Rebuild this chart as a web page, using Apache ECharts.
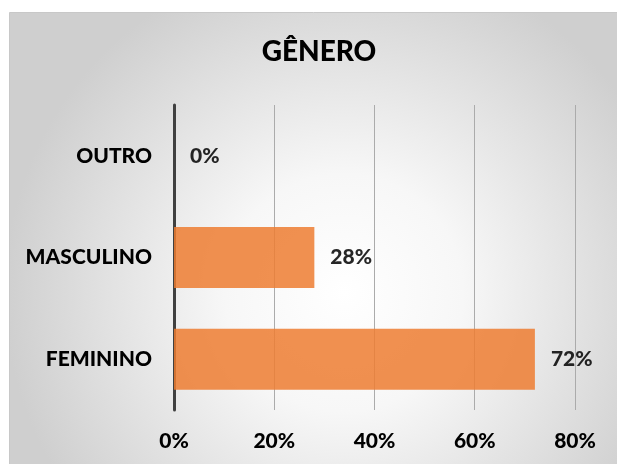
<!DOCTYPE html>
<html><head><meta charset="utf-8">
<script src="https://cdn.jsdelivr.net/npm/echarts@6/dist/echarts.min.js"></script>
<style>html,body{margin:0;padding:0;background:#fff;}#c{width:617px;height:464px;}</style>
</head><body><div id="c"></div>
<script>
const categories = ['FEMININO', 'MASCULINO', 'OUTRO'];
const values = [0.72, 0.28, 0.00];
const tickMax = 0.8;
const tickStep = 0.2;
const titleText = 'GÊNERO';

const FONT = 'Lato';
const W = 900;
const chart = echarts.init(document.getElementById('c'));
chart.setOption({
  animation: false,
  graphic: [{
    type: 'rect', left: 9, top: 12, z: -10, silent: true,
    shape: { width: 608, height: 452 },
    style: {
      fill: { type: 'radial', x: 0.55, y: 0.62, r: 0.75,
        colorStops: [{ offset: 0, color: '#ffffff' }, { offset: 0.35, color: '#f7f7f7' }, { offset: 1, color: '#cfcfcf' }] },
      stroke: '#c8c8c8', lineWidth: 1
    }
  }],
  title: {
    text: titleText, left: 314, top: 33, textAlign: 'center',
    textStyle: { fontFamily: FONT, fontWeight: W, fontSize: 28, color: '#000' }
  },
  grid: { left: 174, right: 42, top: 105, bottom: 54, containLabel: false },
  xAxis: {
    type: 'value', min: 0, max: tickMax, interval: tickStep,
    axisLine: { show: false }, axisTick: { show: false },
    splitLine: { show: true, lineStyle: { color: '#ababab', width: 1 } },
    axisLabel: { margin: 21, fontFamily: FONT, fontWeight: W, fontSize: 21, color: '#000',
      formatter: v => Math.round(v * 100) + '%' }
  },
  yAxis: {
    type: 'category', data: categories,
    axisLine: { show: true, lineStyle: { color: '#404040', width: 3 } },
    axisTick: { show: false },
    axisLabel: { margin: 22, fontFamily: FONT, fontWeight: W, fontSize: 21, color: '#000' }
  },
  series: [{
    type: 'bar', data: values, barWidth: 61,
    itemStyle: { color: '#ED7D31', opacity: 0.85 },
    label: { show: true, position: 'right', distance: 16, fontFamily: FONT, fontWeight: W, fontSize: 21, color: '#000',
      formatter: p => Math.round(p.value * 100) + '%' }
  }]
});
</script></body></html>
